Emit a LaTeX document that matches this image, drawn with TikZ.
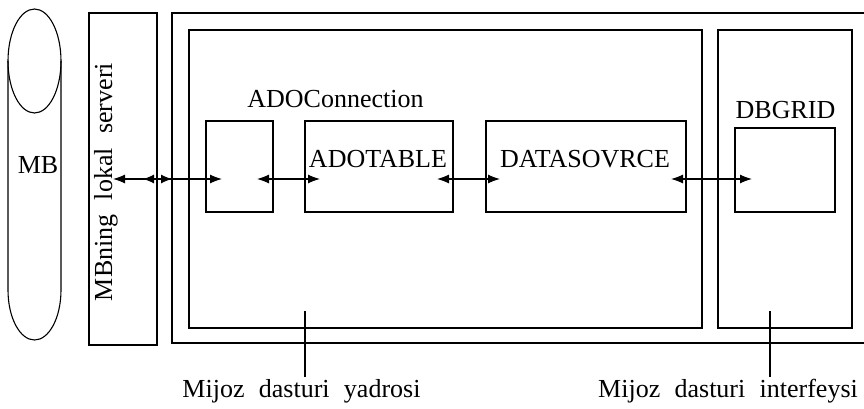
\documentclass[tikz,border=0pt]{standalone}
\usepackage{fontspec}
\setmainfont{Liberation Serif}
\usetikzlibrary{arrows.meta}
\newcommand\wsp{\hspace{0.55em}}
\begin{document}
\begin{tikzpicture}[x=1pt,y=-1pt,line width=1.1pt,
  box/.style={draw,rectangle,inner sep=0pt},
  lbl/.style={inner sep=0pt,anchor=base,font=\fontsize{26}{31}\selectfont},
  dbl/.style={{Latex[length=12pt,width=9pt]}-{Latex[length=12pt,width=9pt]}},
  tip/.style={-{Latex[length=11pt,width=9pt]}}]
\useasboundingbox (0,0) rectangle (864,409);
% MB cylinder
\draw (8,61) -- (8,290) arc[start angle=180,end angle=360,x radius=26.5pt,y radius=50pt] -- (61,61);
\draw (34.5,61) ellipse[x radius=26.5pt,y radius=52pt];
\node[lbl] (mb) at (38,173) {MB};
% local server
\node[box,minimum width=68pt,minimum height=332pt] (srv) at (123,179) {};
\node[lbl,rotate=90] (srvlbl) at (112,182) {MBning\wsp lokal\wsp serveri};
% outer client box
\draw (864,13) -- (172,13) -- (172,343) -- (864,343);
% core and interface
\node[box,minimum width=513pt,minimum height=298pt] (core) at (445.5,179) {};
\node[box,minimum width=134pt,minimum height=298pt] (ui) at (785,179) {};
% components
\node[box,minimum width=67pt,minimum height=91pt] (conn) at (239.5,166.5) {};
\node[box,minimum width=148pt,minimum height=91pt] (tbl) at (379,166.5) {};
\node[box,minimum width=200pt,minimum height=91pt] (dsrc) at (586,166.5) {};
\node[box,minimum width=100pt,minimum height=84pt] (grid) at (785,170) {};
\node[lbl] (connlbl) at (335.5,108) {ADOConnection};
\node[lbl] (tbllbl) at (378,167) {ADOTABLE};
\node[lbl] (dsrclbl) at (585,167) {DATASOVRCE};
\node[lbl] (gridlbl) at (785.5,119) {DBGRID};
% arrows
\coordinate (a1l) at (113,179); \coordinate (a1r) at (222,179);
\coordinate (h1a) at (143,179); \coordinate (h1b) at (156,179);
\coordinate (h2a) at (159,179); \coordinate (h2b) at (172,179);
\coordinate (a2l) at (257,179); \coordinate (a2r) at (320,179);
\coordinate (a3l) at (437,179); \coordinate (a3r) at (500,179);
\coordinate (a4l) at (671,179); \coordinate (a4r) at (752,179);
\draw[dbl] (a1l) -- (a1r);
\draw[tip] (h1b) -- (h1a);
\draw[tip] (h2a) -- (h2b);
\draw[dbl] (a2l) -- (a2r);
\draw[dbl] (a3l) -- (a3r);
\draw[dbl] (a4l) -- (a4r);
% bottom labels
\node[lbl] (corelbl) at (301.5,397) {Mijoz\wsp dasturi\wsp yadrosi};
\node[lbl] (uilbl) at (728,397) {Mijoz\wsp dasturi\wsp interfeysi};
\coordinate (c1) at (305,311); \coordinate (c2) at (770,311);
\draw (c1) -- (c1 |- 0,377);
\draw (c2) -- (c2 |- 0,377);
\end{tikzpicture}
\end{document}
